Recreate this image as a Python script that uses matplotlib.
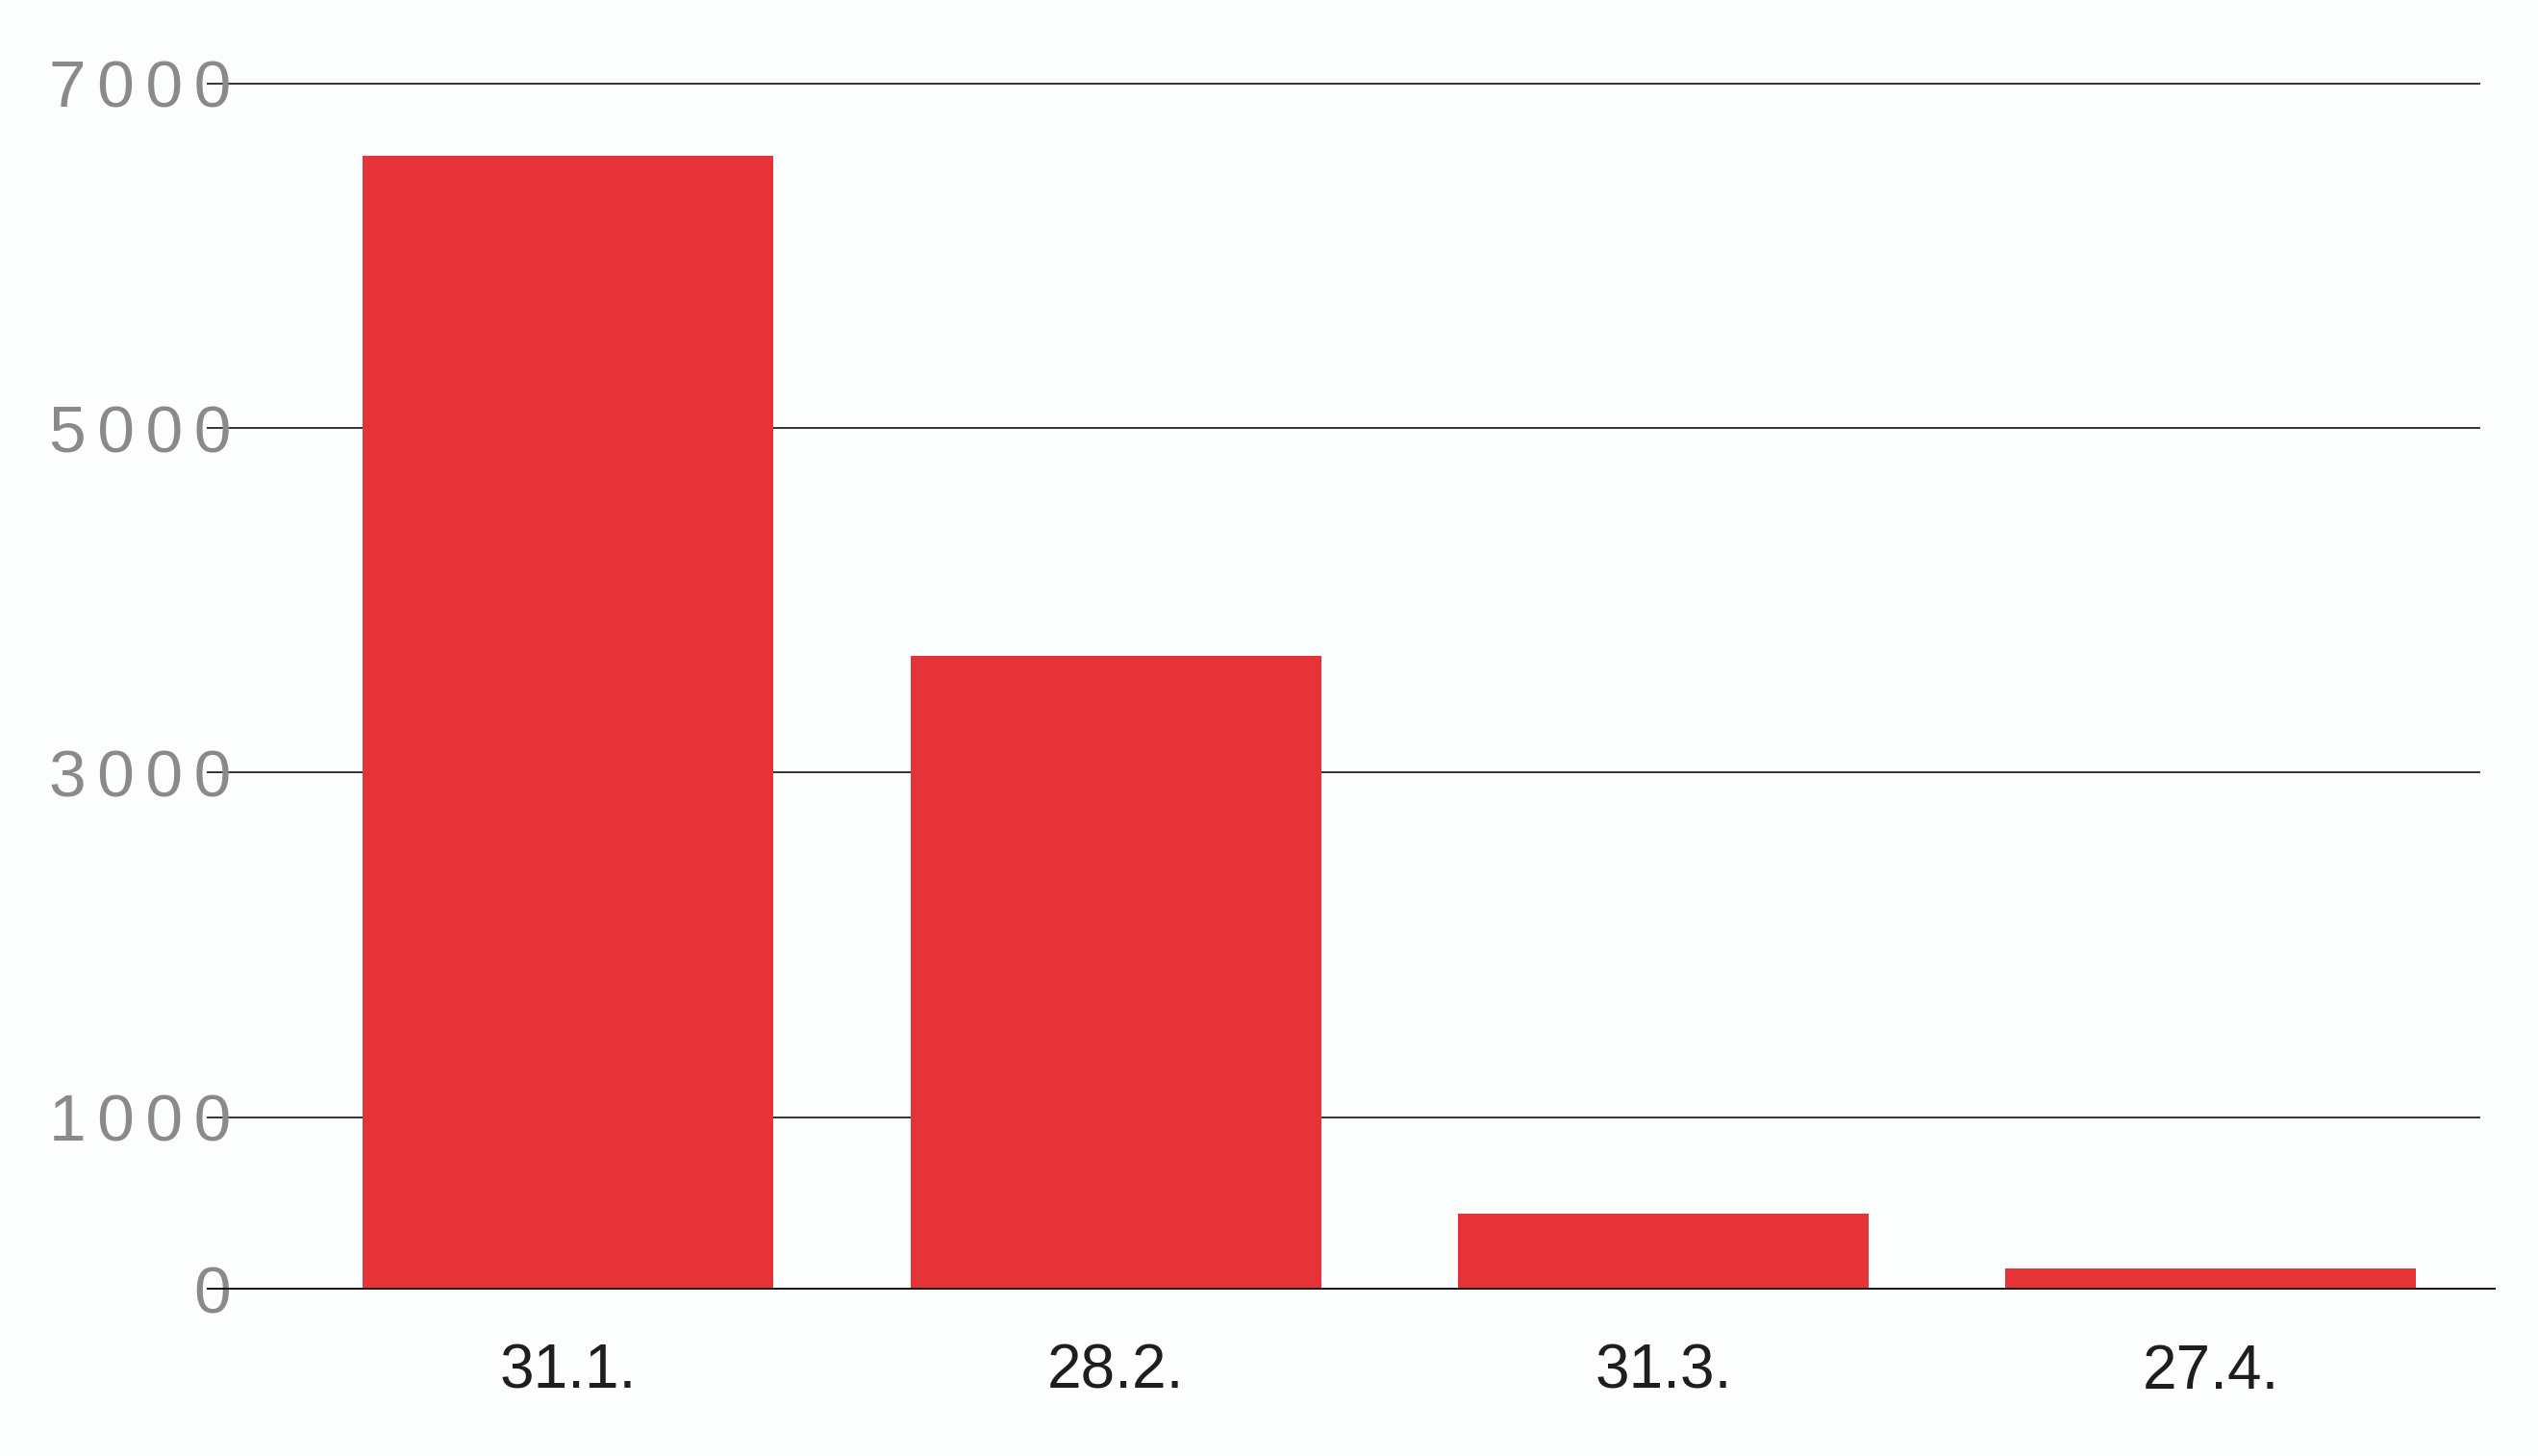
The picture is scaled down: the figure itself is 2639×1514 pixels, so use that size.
import matplotlib
matplotlib.use("Agg")
import matplotlib.pyplot as plt

# data
dates = ["31.1.", "28.2.", "31.3.", "27.4."]
values = [6580, 3680, 440, 125]
grid_vals = [1000, 3000, 5000, 7000]
ytick_vals = [0, 1000, 3000, 5000, 7000]

bar_color = "#e53337"
bg = "#fcfdfd"
HS = "\u200a\u200a"  # y labels are letter-spaced in the original

fig = plt.figure(figsize=(26.39, 15.14), dpi=100, facecolor=bg)
ax = fig.add_axes([0.0815, 0.1143, 0.9018, 0.8403], facecolor=bg)

x = range(len(dates))
ax.bar(x, values, width=0.75, color=bar_color, zorder=3)

ax.set_xlim(-0.66, 3.52)
ax.set_ylim(0, 7100)

# grid lines stop a bit before the base line does
for g in grid_vals:
    ax.axhline(g, xmin=0, xmax=0.993, color="#333333", lw=1.4, zorder=1)
ax.axhline(0, color="#111111", lw=2.8, zorder=4)

for s in ax.spines.values():
    s.set_visible(False)

ax.set_yticks(ytick_vals)
ax.set_yticklabels([HS.join(str(v)) for v in ytick_vals])
ax.tick_params(axis="y", length=0, pad=-18, colors="#8a8a8a", labelsize=50)
for lab in ax.get_yticklabels():
    lab.set_family(["Liberation Sans", "DejaVu Sans"])
    lab.set_zorder(5)

ax.set_xticks(list(x))
ax.set_xticklabels(dates)
ax.tick_params(axis="x", length=0, pad=40, colors="#1e1e1e", labelsize=46)
for lab in ax.get_xticklabels():
    lab.set_family(["Liberation Sans Narrow", "Liberation Sans", "DejaVu Sans"])

fig.savefig("out.png", dpi=100, facecolor=bg)
